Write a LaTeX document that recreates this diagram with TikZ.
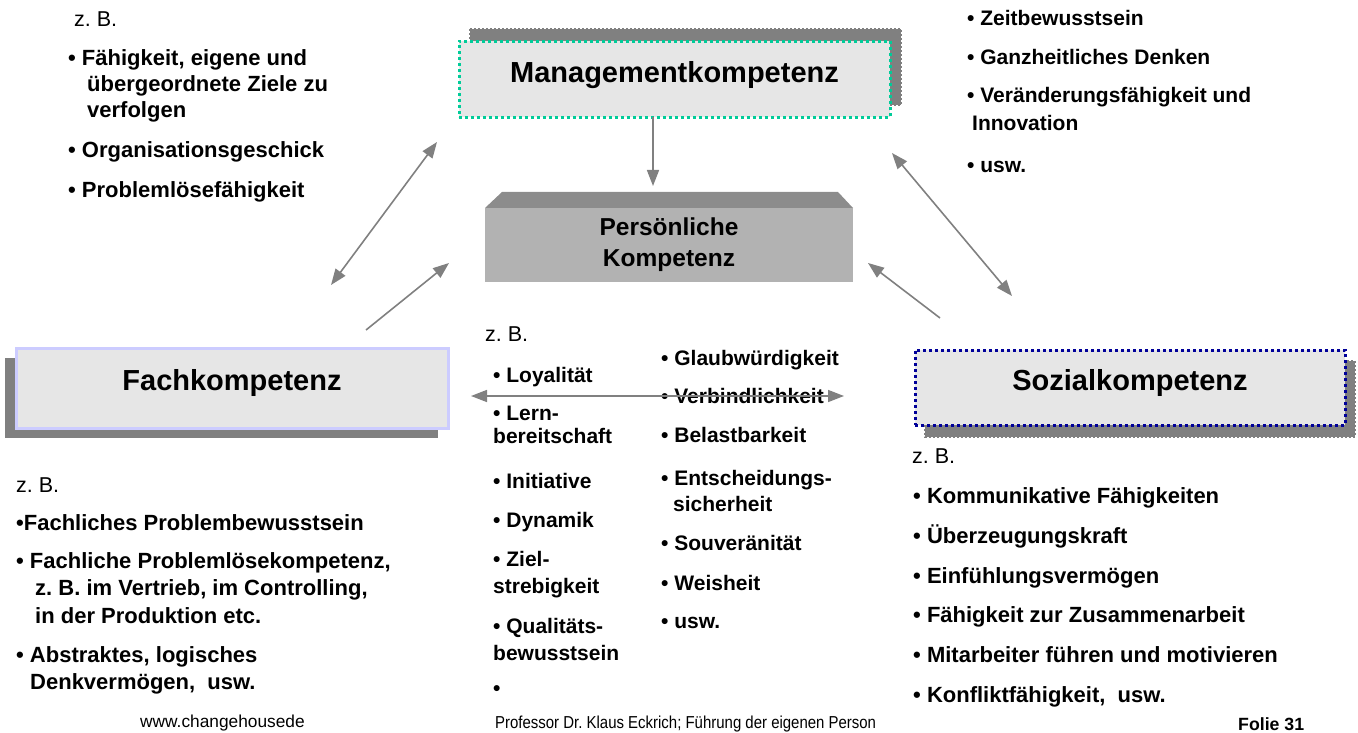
\documentclass[tikz,border=0pt]{standalone}
\usepackage{fontspec}
\setmainfont{Liberation Sans}
\usetikzlibrary{arrows.meta}
\frenchspacing

\definecolor{shadowgray}{HTML}{808080}
\definecolor{boxfill}{HTML}{E6E6E6}
\definecolor{mintline}{HTML}{00CC99}
\definecolor{lavline}{HTML}{CCCCFF}
\definecolor{navyline}{HTML}{000099}
\definecolor{frontgray}{HTML}{B2B2B2}
\definecolor{topgray}{HTML}{8C8C8C}
\definecolor{arrowgray}{HTML}{808080}

\tikzset{
  kbox/.style={fill=boxfill, line width=3pt, minimum width=431pt, minimum height=76pt,
    inner sep=0pt, font=\fontsize{29}{34}\selectfont\bfseries,
    text height=0.73em, text depth=0.21em},
  kshadow/.style={fill=shadowgray, draw=shadowgray, line width=2pt, dash pattern=on 2pt off 2pt},
  item/.style={anchor=base west, inner sep=0pt, font=\fontsize{22}{26}\selectfont\bfseries},
  itemsm/.style={anchor=base west, inner sep=0pt, font=\fontsize{21}{25}\selectfont\bfseries},
  zb/.style={anchor=base west, inner sep=0pt, font=\fontsize{21.5}{25}\selectfont},
  foot/.style={anchor=base west, inner sep=0pt, font=\fontsize{17.3}{20}\selectfont},
  link/.style={draw=arrowgray, line width=1.6pt, -{Triangle[length=16pt,width=12pt]}},
  dlink/.style={draw=arrowgray, line width=1.6pt, {Triangle[length=16pt,width=12pt]}-{Triangle[length=16pt,width=12pt]}},
}

\begin{document}
\begin{tikzpicture}[x=1pt,y=-1pt]
\useasboundingbox (0,0) rectangle (1358,733);

% ---------- shadows ----------
\path[kshadow] (470,29) rectangle (901,105);
\fill[shadowgray] (5,358) rectangle (438,438);
\path[kshadow] (925,361) rectangle (1355,437);

% ---------- competence boxes ----------
\node[kbox, draw=mintline, dash pattern=on 3pt off 3pt] (mgmt) at (674.5,79.5) {Managementkompetenz};
\node[kbox, draw=lavline, minimum width=432pt, minimum height=80pt] (fach) at (232,388) {Fachkompetenz};
\node[kbox, draw=navyline, dash pattern=on 3pt off 3pt, minimum width=430pt, minimum height=75pt] (sozial) at (1130,387.5) {Sozialkompetenz};

% ---------- personal competence block ----------
\fill[topgray] (485,208) -- (502,192) -- (838,192) -- (853,208) -- cycle;
\fill[frontgray] (485,208) rectangle (853,282);
\node[align=center, inner sep=0pt, font=\fontsize{24.5}{31}\selectfont\bfseries] (pers) at (669,245) {Persönliche\\Kompetenz};

% ---------- management examples ----------
\node[zb] (mzb) at (74,27) {z. B.};
\node[item] (m1) at (68,66) {• Fähigkeit, eigene und};
\node[item] (m1b) at (87,92) {übergeordnete Ziele zu};
\node[item] (m1c) at (87,118) {verfolgen};
\node[item] (m2) at (68,158) {• Organisationsgeschick};
\node[item] (m3) at (68,197) {• Problemlösefähigkeit};

% ---------- further management examples ----------
\node[itemsm] (r1) at (967,26) {• Zeitbewusstsein};
\node[itemsm] (r2) at (967,65) {• Ganzheitliches Denken};
\node[itemsm] (r3) at (967,103) {• Veränderungsfähigkeit und};
\node[itemsm] (r3b) at (972,131) {Innovation};
\node[itemsm] (r4) at (967,173) {• usw.};

% ---------- personal examples ----------
\node[zb] (pzb) at (485,341) {z. B.};
\node[itemsm] (p1) at (493,382) {• Loyalität};
\node[itemsm] (p2) at (493,420) {• Lern-};
\node[itemsm] (p2b) at (493,443) {bereitschaft};
\node[itemsm] (p3) at (493,488) {• Initiative};
\node[itemsm] (p4) at (493,527) {• Dynamik};
\node[itemsm] (p5) at (493,566) {• Ziel-};
\node[itemsm] (p5b) at (493,593) {strebigkeit};
\node[itemsm] (p6) at (493,633) {• Qualitäts-};
\node[itemsm] (p6b) at (493,660) {bewusstsein};
\node[itemsm] (p7) at (493,695) {•};

\node[itemsm] (q1) at (661,365) {• Glaubwürdigkeit};
\node[itemsm] (q2) at (661,403) {• Verbindlichkeit};
\node[itemsm] (q3) at (661,442) {• Belastbarkeit};
\node[itemsm] (q4) at (661,485) {• Entscheidungs-};
\node[itemsm] (q4b) at (673,511) {sicherheit};
\node[itemsm] (q5) at (661,550) {• Souveränität};
\node[itemsm] (q6) at (661,590) {• Weisheit};
\node[itemsm] (q7) at (661,628) {• usw.};

% ---------- professional examples ----------
\node[zb] (fzb) at (16,492) {z. B.};
\node[item] (f1) at (16,530) {•Fachliches Problembewusstsein};
\node[item] (f2) at (16,568) {• Fachliche Problemlösekompetenz,};
\node[item] (f2b) at (35,595) {z. B. im Vertrieb, im Controlling,};
\node[item] (f2c) at (35,623) {in der Produktion etc.};
\node[item] (f3) at (16,662) {• Abstraktes, logisches};
\node[item] (f3b) at (30,689) {Denkvermögen,\ \ usw.};

% ---------- social examples ----------
\node[zb] (szb) at (912,463) {z. B.};
\node[item] (s1) at (913,503) {• Kommunikative Fähigkeiten};
\node[item] (s2) at (913,543) {• Überzeugungskraft};
\node[item] (s3) at (913,583) {• Einfühlungsvermögen};
\node[item] (s4) at (913,622) {• Fähigkeit zur Zusammenarbeit};
\node[item] (s5) at (913,662) {• Mitarbeiter führen und motivieren};
\node[item] (s6) at (913,702) {• Konfliktfähigkeit,\ \ usw.};

% ---------- footer ----------
\node[foot] (web) at (140,727) {www.changehousede};
\node[foot, xscale=0.865] (author) at (495,728) {Professor Dr. Klaus Eckrich; Führung der eigenen Person};
\node[foot, font=\fontsize{17.7}{20}\selectfont\bfseries] (folie) at (1238,730) {Folie 31};

% ---------- arrow end points ----------
\coordinate (mdown0) at (653,117);
\coordinate (mdown1) at (653,186);
\coordinate (fm0) at (331,285);
\coordinate (fm1) at (437,142);
\coordinate (fp0) at (366,330);
\coordinate (fp1) at (449,263);
\coordinate (ms0) at (892,153);
\coordinate (ms1) at (1012,296);
\coordinate (sp0) at (940,318);
\coordinate (sp1) at (868,263);
\coordinate (fs0) at (471,396);
\coordinate (fs1) at (844,396);

% ---------- arrows ----------
\draw[link] (mdown0) -- (mdown1);
\draw[dlink] (fm0) -- (fm1);
\draw[link] (fp0) -- (fp1);
\draw[dlink] (ms0) -- (ms1);
\draw[link] (sp0) -- (sp1);
\draw[dlink] (fs0) -- (fs1);
\end{tikzpicture}
\end{document}
